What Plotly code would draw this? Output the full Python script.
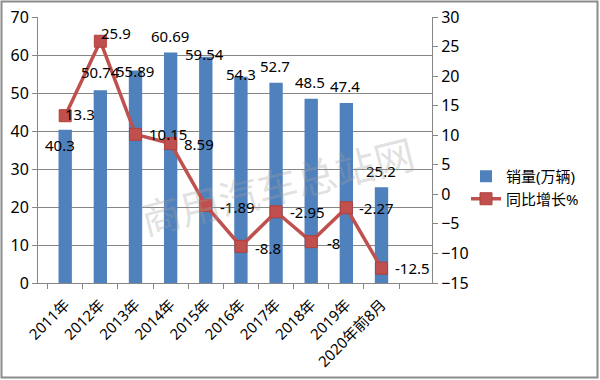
import plotly.graph_objects as go

categories = ["2011年", "2012年", "2013年", "2014年", "2015年", "2016年", "2017年", "2018年", "2019年", "2020年前8月"]
sales = [40.3, 50.74, 55.89, 60.69, 59.54, 54.3, 52.7, 48.5, 47.4, 25.2]
growth = [13.3, 25.9, 10.15, 8.59, -1.89, -8.8, -2.95, -8, -2.27, -12.5]
left_ticks = [0, 10, 20, 30, 40, 50, 60, 70]
right_ticks = [-15, -10, -5, 0, 5, 10, 15, 20, 25, 30]

# label offsets in pixels (styling only)
bar_lbl_dx = [-5, 0, 0, -1, -1, 0, -1, -1, -1, -1]
bar_lbl_dy = [-15, 18, 0, 16, 3, 3, 17, 17, 17, 16]
line_lbl_dx = [15, 16, 33, 28, 32, 27, 31, 22, 30, 31]
line_lbl_dy = [2, 8, 0, 0, -1, -2, 0, -1, 0, 0]

BLUE = "#4F81BD"
RED = "#C0504D"
GRID = "#868686"
FONT = "Noto Sans, Noto Sans CJK SC, sans-serif"

fig = go.Figure()
fig.add_trace(go.Bar(x=categories, y=sales, name="销量(万辆)", marker=dict(color=BLUE, line=dict(width=0)),
                     width=0.38, yaxis="y"))
fig.add_trace(go.Scatter(x=categories, y=growth, name="同比增长%", mode="lines+markers",
                         line=dict(color=RED, width=3.5),
                         marker=dict(symbol="square", size=12, color=RED, line=dict(color="#B0403D", width=1)),
                         yaxis="y2"))

anns = []
for c, v, dx, dy in zip(categories, sales, bar_lbl_dx, bar_lbl_dy):
    anns.append(dict(x=c, y=v, xref="x", yref="y", text=f"{v:g}", showarrow=False,
                     xshift=dx, yshift=dy, font=dict(size=15, color="#000", family=FONT)))
for c, v, dx, dy in zip(categories, growth, line_lbl_dx, line_lbl_dy):
    anns.append(dict(x=c, y=v, xref="x", yref="y2", text=f"{v:g}", showarrow=False,
                     xshift=dx, yshift=dy, font=dict(size=15, color="#000", family=FONT)))
# watermark
anns.append(dict(x=(277 - 38) / 394, y=(283 - 185) / 266, xref="paper", yref="paper",
                 text="商用汽车总站网", showarrow=False, textangle=-14,
                 font=dict(size=40, color="rgba(160,160,160,0.33)", family="Noto Sans CJK SC")))

L, R, T, B = 38, 168, 17, 97
pw, ph = 600 - L - R, 380 - T - B


def px(x):
    return (x - L) / pw


def py(y):
    return (380 - B - y) / ph


fig.add_shape(type="rect", xref="paper", yref="paper", x0=px(1.5), x1=px(597.5), y0=py(1.5), y1=py(377.5),
              line=dict(color="#8C8C8C", width=2), fillcolor="rgba(0,0,0,0)", layer="above")

fig.update_layout(
    width=600, height=380,
    margin=dict(l=L, r=R, t=T, b=B, autoexpand=False),
    paper_bgcolor="white", plot_bgcolor="white",
    font=dict(family=FONT, size=14, color="#000"),
    showlegend=True,
    legend=dict(x=px(466), y=py(160), xanchor="left", yanchor="top", font=dict(size=15, family=FONT),
                bgcolor="rgba(0,0,0,0)", tracegroupgap=4, itemwidth=30),
    xaxis=dict(type="category", tickangle=-45, showline=True, linecolor=GRID, linewidth=1,
               ticks="outside", ticklen=5, tickcolor=GRID, tickson="boundaries", showgrid=False,
               automargin=False, ticklabelstandoff=6, tickfont=dict(size=15, family=FONT)),
    yaxis=dict(range=[0, 70], tickvals=left_ticks, showline=True, linecolor=GRID, linewidth=1,
               ticks="outside", ticklen=5, tickcolor=GRID, showgrid=True, gridcolor=GRID, gridwidth=1,
               zeroline=False, automargin=False, tickfont=dict(size=16, family=FONT)),
    yaxis2=dict(range=[-15, 30], tickvals=right_ticks, overlaying="y", side="right", showline=True,
                linecolor=GRID, linewidth=1, ticks="outside", ticklen=5, tickcolor=GRID, showgrid=False,
                zeroline=False, automargin=False, tickfont=dict(size=16, family=FONT)),
    annotations=anns,
)

fig.write_html("out.html", config={"displayModeBar": False},
               post_script="document.body.style.margin='0';document.body.style.overflow='hidden';")
